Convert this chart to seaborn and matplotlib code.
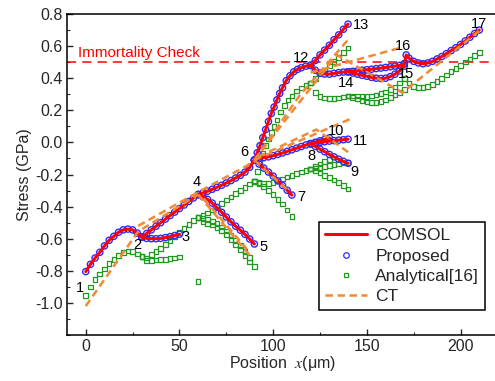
import numpy as np
import pandas as pd
import matplotlib
matplotlib.use("Agg")
import matplotlib.pyplot as plt
import seaborn as sns
from matplotlib.lines import Line2D
from matplotlib.ticker import MultipleLocator, FuncFormatter

# ---------------- COMSOL / Proposed (red line + blue circles) ----------------
c_1_2_x = [0, 2.5, 5, 7.5, 10, 12.5, 15, 17.5, 20, 22.5, 25, 27.5, 30]
c_1_2_y = [-0.805, -0.76, -0.72, -0.685, -0.645, -0.61, -0.585, -0.56, -0.545, -0.54, -0.545, -0.565, -0.59]
c_2_3_x = [30, 32.5, 35, 37.5, 40, 42.5, 45, 47.5, 50]
c_2_3_y = [-0.59, -0.598, -0.6, -0.6, -0.598, -0.593, -0.587, -0.58, -0.572]
c_2_4_x = [30, 32.5, 35, 37.5, 40, 42.5, 45, 47.5, 50, 52.5, 55, 57.5, 60]
c_2_4_y = [-0.59, -0.568, -0.545, -0.522, -0.5, -0.478, -0.456, -0.434, -0.412, -0.39, -0.368, -0.346, -0.325]
c_4_5_x = [60, 62.5, 65, 67.5, 70, 72.5, 75, 77.5, 80, 82.5, 85, 87.5, 90]
c_4_5_y = [-0.325, -0.338, -0.355, -0.378, -0.405, -0.435, -0.465, -0.495, -0.522, -0.547, -0.573, -0.602, -0.633]
c_4_6_x = [60, 62.5, 65, 67.5, 70, 72.5, 75, 77.5, 80, 82.5, 85, 87.5, 90]
c_4_6_y = [-0.325, -0.315, -0.304, -0.292, -0.28, -0.267, -0.253, -0.238, -0.222, -0.205, -0.185, -0.155, -0.11]
c_6_7_x = [90, 92.5, 95, 97.5, 100, 102.5, 105, 107.5, 110]
c_6_7_y = [-0.11, -0.135, -0.16, -0.185, -0.21, -0.24, -0.268, -0.298, -0.328]
c_6_8_x = [90, 92.5, 95, 97.5, 100, 102.5, 105, 107.5, 110, 112.5, 115, 117.5, 120]
c_6_8_y = [-0.11, -0.1, -0.095, -0.09, -0.083, -0.075, -0.066, -0.056, -0.046, -0.036, -0.026, -0.016, -0.008]
c_8_9_x = [120, 122.5, 125, 127.5, 130, 132.5, 135, 137.5, 140]
c_8_9_y = [-0.008, -0.025, -0.042, -0.058, -0.075, -0.09, -0.105, -0.118, -0.13]
c_8_10_x = [120, 122.5, 125, 127.5, 130]
c_8_10_y = [-0.008, 0.001, 0.01, 0.019, 0.028]
c_8_11_x = [120, 122.5, 125, 127.5, 130, 132.5, 135, 137.5, 140]
c_8_11_y = [-0.008, -0.003, 0.0, 0.004, 0.008, 0.011, 0.014, 0.017, 0.02]
c_6_12_x = [90, 91.5, 93, 94.5, 96, 97.5, 99, 100.5, 102, 103.5, 105, 107, 109, 111, 113, 115, 117.5, 120]
c_6_12_y = [-0.11, -0.065, -0.02, 0.03, 0.08, 0.13, 0.18, 0.22, 0.265, 0.305, 0.34, 0.385, 0.415, 0.44, 0.455, 0.465, 0.475, 0.48]
c_12_13_x = [120, 122.5, 125, 127.5, 130, 132.5, 135, 137.5, 140]
c_12_13_y = [0.48, 0.51, 0.545, 0.575, 0.605, 0.64, 0.67, 0.705, 0.737]
c_12_14_x = [120, 122.5, 125, 127.5, 130, 132.5, 135, 137.5, 140]
c_12_14_y = [0.48, 0.45, 0.432, 0.426, 0.425, 0.43, 0.435, 0.438, 0.44]
c_14_16_x = [140, 142.5, 145, 147.5, 150, 152.5, 155, 157.5, 160, 162.5, 165, 167.5, 170]
c_14_16_y = [0.44, 0.443, 0.446, 0.45, 0.453, 0.456, 0.46, 0.463, 0.467, 0.471, 0.475, 0.48, 0.49]
c_14_15_x = [140, 142.5, 145, 147.5, 150, 152.5, 155, 157.5, 160, 162.5, 165, 167.5, 170]
c_14_15_y = [0.44, 0.432, 0.425, 0.418, 0.412, 0.405, 0.4, 0.398, 0.4, 0.41, 0.425, 0.445, 0.475]
c_16_17_x = [170, 171, 172.5, 175, 177.5, 180, 182.5, 185, 187.5, 190, 192.5, 195, 197.5, 200, 202.5, 205, 207.5, 210]
c_16_17_y = [0.49, 0.545, 0.525, 0.505, 0.495, 0.49, 0.495, 0.505, 0.52, 0.535, 0.553, 0.572, 0.59, 0.61, 0.632, 0.655, 0.678, 0.70]

# ---------------- Analytical[16] (green squares) ----------------
a_1_2_x = [0, 2.5, 5, 7.5, 10, 12.5, 15, 17.5, 20, 22.5, 25, 27.5, 30]
a_1_2_y = [-0.955, -0.9, -0.855, -0.82, -0.79, -0.755, -0.73, -0.705, -0.685, -0.676, -0.68, -0.695, -0.71]
a_2_3_x = [30, 32.5, 35, 37.5, 40, 42.5, 45, 47.5, 50]
a_2_3_y = [-0.71, -0.735, -0.735, -0.733, -0.73, -0.728, -0.725, -0.72, -0.715]
a_2_4_x = [30, 32.5, 35, 37.5, 40, 42.5, 45, 47.5, 50, 52.5, 55, 57.5, 60]
a_2_4_y = [-0.71, -0.72, -0.7, -0.68, -0.66, -0.635, -0.61, -0.585, -0.56, -0.535, -0.51, -0.487, -0.468]
a_4_pt_x = [60]
a_4_pt_y = [-0.868]
a_4_5a_x = [60, 62.5, 65, 67.5, 70, 72.5, 75, 77.5, 80, 82.5, 85, 87.5, 90]
a_4_5a_y = [-0.468, -0.475, -0.482, -0.492, -0.507, -0.527, -0.552, -0.58, -0.61, -0.642, -0.678, -0.718, -0.775]
a_4_5b_x = [62.5, 65, 67.5, 70, 72.5, 75, 77.5, 80, 82.5, 85, 87.5]
a_4_5b_y = [-0.495, -0.505, -0.515, -0.53, -0.55, -0.575, -0.605, -0.635, -0.668, -0.703, -0.745]
a_4_6_x = [60, 62.5, 65, 67.5, 70, 72.5, 75, 77.5, 80, 82.5, 85, 87.5, 90]
a_4_6_y = [-0.468, -0.455, -0.44, -0.42, -0.4, -0.38, -0.36, -0.34, -0.32, -0.3, -0.28, -0.26, -0.245]
a_6_7_x = [90, 92.5, 95, 97.5, 100, 102.5, 105, 107.5, 110]
a_6_7_y = [-0.245, -0.255, -0.275, -0.3, -0.325, -0.355, -0.385, -0.42, -0.46]
a_6_8_x = [90, 92.5, 95, 97.5, 100, 102.5, 105, 107.5, 110, 112.5, 115, 117.5, 120]
a_6_8_y = [-0.245, -0.25, -0.255, -0.255, -0.25, -0.24, -0.228, -0.215, -0.205, -0.195, -0.185, -0.175, -0.165]
a_8_9_x = [120, 122.5, 125, 127.5, 130, 132.5, 135, 137.5, 140]
a_8_9_y = [-0.165, -0.175, -0.19, -0.205, -0.22, -0.235, -0.25, -0.27, -0.29]
a_8_10_x = [120, 122.5, 125, 127.5, 130]
a_8_10_y = [-0.165, -0.15, -0.135, -0.12, -0.105]
a_8_11_x = [120, 122.5, 125, 127.5, 130, 132.5, 135, 137.5, 140]
a_8_11_y = [-0.165, -0.16, -0.155, -0.15, -0.143, -0.138, -0.133, -0.128, -0.125]
a_6_12_x = [90, 91.5, 93, 94.5, 96, 97.5, 99, 100.5, 102, 104, 106, 108, 110, 112.5, 115, 117.5, 120]
a_6_12_y = [-0.24, -0.18, -0.12, -0.07, -0.02, 0.02, 0.06, 0.1, 0.14, 0.19, 0.23, 0.265, 0.29, 0.32, 0.34, 0.355, 0.37]
a_12_13_x = [120, 122.5, 125, 127.5, 130, 132.5, 135, 137.5, 140]
a_12_13_y = [0.37, 0.4, 0.425, 0.45, 0.477, 0.505, 0.53, 0.56, 0.588]
a_12_14_x = [120, 122.5, 125, 127.5, 130, 132.5, 135, 137.5, 140]
a_12_14_y = [0.37, 0.31, 0.285, 0.276, 0.273, 0.274, 0.277, 0.283, 0.29]
a_14_16_x = [140, 142.5, 145, 147.5, 150, 152.5, 155, 157.5, 160, 162.5, 165, 167.5, 170]
a_14_16_y = [0.29, 0.29, 0.29, 0.285, 0.285, 0.29, 0.295, 0.305, 0.315, 0.33, 0.345, 0.37, 0.40]
a_14_15_x = [140, 142.5, 145, 147.5, 150, 152.5, 155, 157.5, 160, 162.5, 165, 167.5, 170]
a_14_15_y = [0.29, 0.28, 0.27, 0.26, 0.252, 0.248, 0.25, 0.255, 0.265, 0.28, 0.295, 0.31, 0.33]
a_16_17_x = [170, 172.5, 175, 177.5, 180, 182.5, 185, 187.5, 190, 192.5, 195, 197.5, 200, 202.5, 205, 207.5, 210]
a_16_17_y = [0.40, 0.37, 0.35, 0.343, 0.343, 0.35, 0.362, 0.38, 0.40, 0.42, 0.44, 0.46, 0.48, 0.50, 0.52, 0.54, 0.56]

# ---------------- CT (orange dashed) ----------------
ct_1_x = [0, 28, 60]
ct_1_y = [-1.02, -0.555, -0.325]
ct_2_x = [28, 60, 90]
ct_2_y = [-0.52, -0.31, -0.12]
ct_3_x = [60, 88]
ct_3_y = [-0.325, -0.71]
ct_4_x = [63, 86]
ct_4_y = [-0.35, -0.665]
ct_5_x = [90, 108]
ct_5_y = [-0.11, -0.30]
ct_6_x = [90, 141]
ct_6_y = [-0.11, 0.145]
ct_7_x = [92, 123, 140]
ct_7_y = [-0.09, 0.08, -0.06]
ct_8_x = [90, 114, 140]
ct_8_y = [-0.11, 0.29, 0.64]
ct_9_x = [90, 112, 134, 169, 211]
ct_9_y = [-0.11, 0.22, 0.545, 0.31, 0.705]
ct_10_x = [120, 168]
ct_10_y = [0.435, 0.59]

# node labels
node_labels = ["1", "2", "3", "4", "5", "6", "7", "8", "9", "10", "11", "12", "13", "14", "15", "16", "17"]
node_x = [-3.2, 27.5, 53.4, 59, 95, 84.8, 115, 120.4, 143.5, 133.8, 146.5, 115, 147, 139, 171, 169.3, 210]
node_y = [-0.905, -0.64, -0.59, -0.245, -0.654, -0.062, -0.342, -0.083, -0.187, 0.072, 0.01, 0.525, 0.73, 0.367, 0.425, 0.60, 0.737]

immortality_level = 0.5
x_ticks = [0, 50, 100, 150, 200]
y_ticks = [-1.0, -0.8, -0.6, -0.4, -0.2, 0.0, 0.2, 0.4, 0.6, 0.8]


def build(pairs):
    frames = []
    for i, (xs, ys) in enumerate(pairs):
        frames.append(pd.DataFrame({"x": xs, "y": ys, "seg": i}))
    return pd.concat(frames, ignore_index=True)


comsol_df = build([
    (c_1_2_x, c_1_2_y), (c_2_3_x, c_2_3_y), (c_2_4_x, c_2_4_y), (c_4_5_x, c_4_5_y),
    (c_4_6_x, c_4_6_y), (c_6_7_x, c_6_7_y), (c_6_8_x, c_6_8_y), (c_8_9_x, c_8_9_y),
    (c_8_10_x, c_8_10_y), (c_8_11_x, c_8_11_y), (c_6_12_x, c_6_12_y), (c_12_13_x, c_12_13_y),
    (c_12_14_x, c_12_14_y), (c_14_16_x, c_14_16_y), (c_14_15_x, c_14_15_y), (c_16_17_x, c_16_17_y),
])
analytical_df = build([
    (a_1_2_x, a_1_2_y), (a_2_3_x, a_2_3_y), (a_2_4_x, a_2_4_y), (a_4_pt_x, a_4_pt_y),
    (a_4_5a_x, a_4_5a_y), (a_4_5b_x, a_4_5b_y), (a_4_6_x, a_4_6_y), (a_6_7_x, a_6_7_y),
    (a_6_8_x, a_6_8_y), (a_8_9_x, a_8_9_y), (a_8_10_x, a_8_10_y), (a_8_11_x, a_8_11_y),
    (a_6_12_x, a_6_12_y), (a_12_13_x, a_12_13_y), (a_12_14_x, a_12_14_y),
    (a_14_16_x, a_14_16_y), (a_14_15_x, a_14_15_y), (a_16_17_x, a_16_17_y),
])
ct_df = build([
    (ct_1_x, ct_1_y), (ct_2_x, ct_2_y), (ct_3_x, ct_3_y), (ct_4_x, ct_4_y), (ct_5_x, ct_5_y),
    (ct_6_x, ct_6_y), (ct_7_x, ct_7_y), (ct_8_x, ct_8_y), (ct_9_x, ct_9_y), (ct_10_x, ct_10_y),
])

sns.set_style("ticks")
plt.rcParams["font.family"] = ["Liberation Sans", "DejaVu Sans"]
plt.rcParams["mathtext.fontset"] = "stix"
plt.rcParams["axes.unicode_minus"] = False

RED = "#ff0000"
BLUE = "#2b2bff"
GREEN = "#1f9a1f"
ORANGE = "#f08a35"

fig = plt.figure(figsize=(4.95, 3.81), dpi=100)
ax = fig.add_axes([67 / 495, 1 - 335 / 381, 431 / 495, 321 / 381])

sns.scatterplot(data=analytical_df, x="x", y="y", marker="s", s=11, facecolors="none",
                edgecolor=GREEN, linewidth=0.9, ax=ax, zorder=2, legend=False)
sns.scatterplot(data=comsol_df, x="x", y="y", marker="o", s=20, facecolors="none",
                edgecolor=BLUE, linewidth=1.0, ax=ax, zorder=3, legend=False)
sns.lineplot(data=comsol_df, x="x", y="y", units="seg", estimator=None, sort=False,
             color=RED, lw=2.2, ax=ax, zorder=4, legend=False)
sns.lineplot(data=ct_df, x="x", y="y", units="seg", estimator=None, sort=False,
             color=ORANGE, lw=1.8, linestyle=(0, (3, 1.8)), ax=ax, zorder=5, legend=False)

ax.axhline(immortality_level, color=RED, lw=1.1, linestyle=(0, (6, 4)), zorder=1)
ax.text(-4, 0.557, "Immortality Check", color=RED, fontsize=11, va="center", ha="left")

for lab, lx, ly in zip(node_labels, node_x, node_y):
    ax.text(lx, ly, lab, fontsize=10.5, ha="center", va="center", color="black", zorder=6)

ax.set_xlim(-10, 220)
ax.set_ylim(-1.2, 0.8)
ax.set_xticks(x_ticks)
ax.set_yticks(y_ticks)
ax.xaxis.set_minor_locator(MultipleLocator(25))
ax.yaxis.set_minor_locator(MultipleLocator(0.1))
ax.yaxis.set_major_formatter(FuncFormatter(lambda v, p: f"{v:.1f}".replace("-0.0", "0.0")))
ax.tick_params(which="major", direction="in", length=4, width=1, labelsize=11.5, pad=3)
ax.tick_params(which="minor", direction="in", length=2, width=0.8)
for sp in ax.spines.values():
    sp.set_linewidth(1.1)
    sp.set_color("black")

ax.set_xlabel("Position  $x$(μm)", fontsize=11.5, labelpad=0)
ax.set_ylabel("Stress (GPa)", fontsize=11.5, labelpad=2)

handles = [
    Line2D([], [], color=RED, lw=2.2),
    Line2D([], [], color=BLUE, marker="o", ls="none", markerfacecolor="none", markersize=4, mew=0.9),
    Line2D([], [], color=GREEN, marker="s", ls="none", markerfacecolor="none", markersize=3.5, mew=0.9),
    Line2D([], [], color=ORANGE, lw=1.8, linestyle=(0, (3, 1.8))),
]
leg = ax.legend(handles, ["COMSOL", "Proposed", "Analytical[16]", "CT"],
                loc="upper left", bbox_to_anchor=(319 / 495, 1 - 222 / 381),
                bbox_transform=fig.transFigure, fontsize=12.5, frameon=True,
                fancybox=False, framealpha=1, edgecolor="black", handlelength=2.4,
                borderpad=0.35, labelspacing=0.3, handletextpad=0.5, borderaxespad=0)
leg.get_frame().set_linewidth(1.1)
leg.set_zorder(10)

fig.savefig("out.png", dpi=100)
